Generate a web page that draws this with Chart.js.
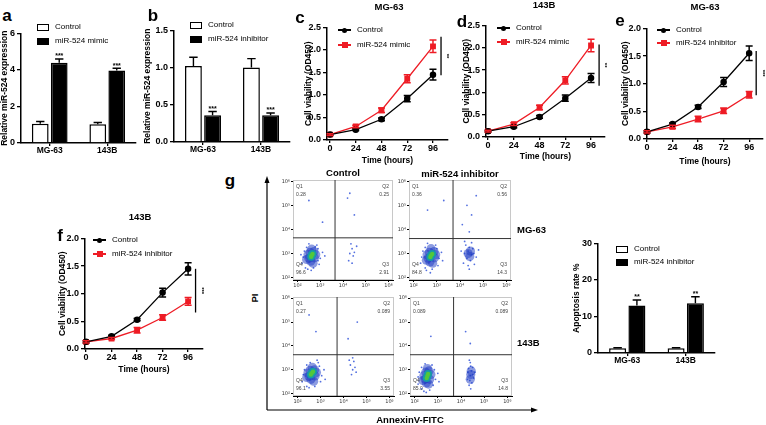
<!DOCTYPE html>
<html><head><meta charset="utf-8">
<script src="https://cdn.jsdelivr.net/npm/chart.js@4.4.1/dist/chart.umd.min.js"></script>
<style>
html,body{margin:0;padding:0;background:#fff}
body{width:766px;height:425px;position:relative;overflow:hidden;font-family:"Liberation Sans",Arial,sans-serif;color:#000}
.t{position:absolute;white-space:nowrap;line-height:1}
</style></head><body>
<script>
// ---------------- DATA ----------------
const barCategories = ['MG-63', '143B'];
const aControl = [1.05, 1.02];      const aControlErr = [0.13, 0.10];
const aMimic = [4.40, 3.97];        const aMimicErr = [0.20, 0.12];
const bControl = [1.02, 1.00];      const bControlErr = [0.12, 0.12];
const bInhibitor = [0.36, 0.36];    const bInhibitorErr = [0.05, 0.03];

const timeHours = [0, 24, 48, 72, 96];
const cControl = [0.12, 0.23, 0.46, 0.92, 1.45]; const cControlErr = [0.02, 0.02, 0.03, 0.07, 0.12];
const cMimic   = [0.12, 0.30, 0.66, 1.36, 2.08]; const cMimicErr   = [0.02, 0.03, 0.05, 0.09, 0.14];
const dControl = [0.13, 0.23, 0.45, 0.87, 1.32]; const dControlErr = [0.02, 0.02, 0.03, 0.07, 0.10];
const dMimic   = [0.13, 0.29, 0.66, 1.27, 2.05]; const dMimicErr   = [0.02, 0.03, 0.05, 0.08, 0.14];
const eControl = [0.13, 0.27, 0.58, 1.03, 1.55]; const eControlErr = [0.02, 0.02, 0.03, 0.08, 0.13];
const eInhibitor = [0.13, 0.22, 0.36, 0.51, 0.80]; const eInhibitorErr = [0.02, 0.03, 0.05, 0.05, 0.06];
const fControl = [0.13, 0.23, 0.53, 1.02, 1.45]; const fControlErr = [0.02, 0.02, 0.02, 0.08, 0.11];
const fInhibitor = [0.13, 0.19, 0.34, 0.57, 0.86]; const fInhibitorErr = [0.02, 0.02, 0.05, 0.05, 0.07];
// significance brackets at 96 h: [x, low, high]
const cSig = [103.5, 1.44, 2.29]; const dSig = [103.5, 1.15, 2.07];
const eSig = [102.6, 0.79, 1.59]; const fSig = [103, 0.66, 1.45];

const gControl = [1.3, 1.3];     const gControlErr = [0.15, 0.12];
const gInhibitor = [13.0, 13.6]; const gInhibitorErr = [1.5, 1.8];

// flow cytometry (log10 units) : Control MG-63, inhibitor MG-63, Control 143B, inhibitor 143B
const flowQ1 = ['0.28', '0.36', '0.27', '0.089'];
const flowQ2 = ['0.25', '0.56', '0.089', '0.089'];
const flowQ3 = ['2.91', '14.3', '3.55', '14.8'];
const flowQ4 = ['96.6', '84.8', '96.1', '85.0'];
const flowGateX = [3.65, 3.70, 3.72, 3.68];
const flowGateY = [3.65, 3.62, 3.63, 3.63];
const flowTicks = [2, 3, 4, 5, 6];
const flowCore = [
  [[2.62,2.92],[2.66,2.98],[2.60,2.86]],
  [[2.75,2.92],[2.80,2.98],[2.72,2.85]],
  [[2.62,2.86],[2.67,2.92],[2.58,2.80]],
  [[2.55,2.74],[2.58,2.82],[2.52,2.65]]
];
const flowMid = [
  [[2.50,2.80],[2.72,3.08],[2.55,3.05],[2.74,2.82],[2.46,2.95],[2.80,2.95],[2.62,3.18],[2.58,2.68],[2.40,2.75],[2.68,2.60]],
  [[2.62,2.80],[2.88,3.08],[2.68,3.05],[2.90,2.82],[2.58,2.95],[2.95,2.95],[2.75,3.20],[2.70,2.65],[2.55,2.72],[2.82,2.60],[4.35,3.00],[4.45,3.10],[4.42,2.88]],
  [[2.50,2.72],[2.74,3.00],[2.54,2.98],[2.76,2.74],[2.45,2.86],[2.82,2.88],[2.64,3.10],[2.58,2.60],[2.40,2.68],[2.70,2.52]],
  [[2.45,2.60],[2.62,2.95],[2.48,2.90],[2.65,2.60],[2.40,2.75],[2.70,2.80],[2.55,3.05],[2.50,2.45],[2.35,2.55],[2.60,2.40],[4.42,2.80],[4.40,2.60],[4.44,2.95]]
];
const flowDots = [
  [[2.20,2.60],[2.30,3.10],[2.35,2.40],[2.90,3.20],[3.00,2.80],[2.95,2.55],[2.85,3.35],[2.50,3.40],[2.25,2.85],[2.70,2.40],[2.45,2.35],[3.10,3.05],[2.40,3.25],[2.60,2.30],[2.15,2.95],[2.90,2.70],[3.20,2.90],[2.78,3.28],
   [4.30,3.00],[4.40,3.20],[4.45,2.90],[4.35,3.40],[4.50,3.05],[4.25,2.70],[4.40,2.60],[4.60,3.30],[4.20,5.30],[4.30,5.50],[4.50,4.60],[2.50,5.20],[3.10,4.30]],
  [[2.30,2.60],[2.40,3.10],[2.50,2.40],[3.00,3.20],[3.10,2.80],[3.05,2.50],[2.95,3.35],[2.60,3.42],[2.35,2.85],[2.80,2.35],[2.55,2.30],[3.20,3.05],[2.50,3.25],[2.72,2.20],[3.25,2.70],
   [4.20,3.00],[4.35,3.10],[4.50,2.95],[4.40,3.25],[4.30,2.80],[4.55,3.20],[4.45,2.70],[4.25,3.35],[4.60,3.00],[4.15,2.60],[4.70,2.85],[4.35,2.50],[4.50,3.45],[4.05,3.10],[4.80,3.15],[4.40,2.35],[4.62,2.55],[4.20,3.50],
   [4.30,5.00],[4.50,4.60],[4.70,5.40],[4.10,4.20],[4.40,3.90],[2.60,4.80],[3.30,5.20]],
  [[2.20,2.50],[2.30,3.00],[2.40,2.30],[2.95,3.15],[3.05,2.75],[3.00,2.50],[2.90,3.30],[2.55,3.30],[2.25,2.80],[2.75,2.30],[2.50,2.25],[3.15,3.00],[2.40,3.20],[3.20,2.60],[2.85,3.40],
   [4.30,3.20],[4.40,3.00],[4.45,3.35],[4.35,2.80],[4.50,3.10],[4.25,3.40],[4.55,2.90],[4.40,3.50],[4.60,5.00],[4.20,4.30],[2.80,4.60],[2.50,5.30]],
  [[2.15,2.40],[2.20,2.90],[2.30,2.20],[2.85,3.00],[2.90,2.60],[2.80,2.35],[2.75,3.20],[2.45,3.25],[2.15,2.70],[2.65,2.15],[2.40,2.10],[3.00,2.85],[2.30,3.10],[2.50,2.05],[3.05,2.50],
   [4.40,2.75],[4.45,2.95],[4.38,2.55],[4.42,3.15],[4.35,2.35],[4.50,2.80],[4.30,2.90],[4.47,2.45],[4.40,3.30],[4.55,2.65],[4.33,3.05],[4.50,3.10],[4.28,2.60],[4.42,2.20],[4.60,2.90],[4.36,3.40],
   [4.40,4.10],[4.20,4.60],[2.70,4.40]]
];

// ---------------- HELPERS ----------------
Chart.defaults.font.family = '"Liberation Sans", Arial, sans-serif';
Chart.defaults.color = '#000';
Chart.defaults.animation = false;

const FONT = '"Liberation Sans", Arial, sans-serif';
function T(x, y, s, size, bold, align, rot) {
  const d = document.createElement('div');
  d.className = 't'; d.textContent = s;
  d.style.fontSize = size + 'px';
  d.style.fontWeight = bold ? 'bold' : 'normal';
  d.style.left = x + 'px'; d.style.top = y + 'px';
  let tr = align === 'c' ? 'translate(-50%,-50%)' : align === 'r' ? 'translate(-100%,-50%)' : 'translate(0,-50%)';
  if (rot) tr += ' rotate(' + rot + 'deg)';
  d.style.transform = tr;
  document.body.appendChild(d);
}
function div(css) { const d = document.createElement('div'); d.style.cssText = 'position:absolute;' + css; document.body.appendChild(d); return d; }
function legLine(x, y, color, shape, text) {
  div(`left:${x}px;top:${y - 0.7}px;width:13px;height:1.4px;background:${color}`);
  const s = shape === 'rect' ? 6 : 5;
  div(`left:${x + 6.5 - s / 2}px;top:${y - s / 2}px;width:${s}px;height:${s}px;background:${color};border-radius:${shape === 'rect' ? '0' : '50%'}`);
  T(x + 19, y, text, 8, false, 'l');
}
function legBar(x, y, fill, text) {
  div(`left:${x}px;top:${y - 3.5}px;width:12px;height:7px;box-sizing:border-box;border:1.5px solid #000;background:${fill}`);
  T(x + 18, y, text, 8, false, 'l');
}
function place(area, yW, xH, pT, pR) {
  const W = Math.round(area.r - area.l + yW + pR), H = Math.round(area.b - area.t + xH + pT);
  const c = document.createElement('canvas');
  c.width = W; c.height = H;
  c.style.cssText = `position:absolute;left:${area.l - yW}px;top:${area.t - pT}px;width:${W}px;height:${H}px`;
  document.body.appendChild(c);
  return c;
}

const errPlugin = {
  id: 'errbars',
  afterDatasetsDraw(chart) {
    const ctx = chart.ctx, ys = chart.scales.y;
    chart.data.datasets.forEach((ds, di) => {
      if (!ds.errors) return;
      const meta = chart.getDatasetMeta(di);
      ctx.save();
      ctx.strokeStyle = ds.errColor || '#000';
      ctx.lineWidth = ds.errWidth || 1.4;
      meta.data.forEach((el, i) => {
        const raw = ds.data[i];
        const v = typeof raw === 'object' ? raw.y : raw;
        const e = ds.errors[i];
        const x = el.x;
        const yT = ys.getPixelForValue(v + e);
        const yB = ds.errBoth ? ys.getPixelForValue(v - e) : ys.getPixelForValue(v);
        const cw = ds.capW || (el.width ? el.width * 0.5 : 6);
        ctx.beginPath();
        ctx.moveTo(x, yT); ctx.lineTo(x, yB);
        ctx.moveTo(x - cw / 2, yT); ctx.lineTo(x + cw / 2, yT);
        if (ds.errBoth) { ctx.moveTo(x - cw / 2, yB); ctx.lineTo(x + cw / 2, yB); }
        ctx.stroke();
        if (ds.stars) {
          ctx.fillStyle = '#000';
          ctx.font = 'bold 7px ' + FONT;
          ctx.textAlign = 'center'; ctx.textBaseline = 'bottom';
          ctx.fillText(ds.stars, x, yT + 1);
        }
      });
      ctx.restore();
    });
  }
};
const sigPlugin = {
  id: 'sig',
  afterDraw(chart, args, o) {
    if (!o || !o.v) return;
    const ctx = chart.ctx, xs = chart.scales.x, ys = chart.scales.y;
    const x = xs.getPixelForValue(o.v[0]);
    const y1 = ys.getPixelForValue(o.v[1]), y2 = ys.getPixelForValue(o.v[2]);
    ctx.save();
    ctx.strokeStyle = '#000'; ctx.lineWidth = 1.3;
    ctx.beginPath(); ctx.moveTo(x, y1); ctx.lineTo(x, y2); ctx.stroke();
    ctx.translate(x + 3, (y1 + y2) / 2);
    ctx.rotate(Math.PI / 2);
    ctx.fillStyle = '#000'; ctx.font = 'bold 6px ' + FONT;
    ctx.textAlign = 'center'; ctx.textBaseline = 'bottom';
    ctx.fillText(o.text, 0, 0);
    ctx.restore();
  }
};
const flowPlugin = {
  id: 'flow',
  beforeDatasetsDraw(chart) {
    const a = chart.chartArea, ctx = chart.ctx;
    ctx.save(); ctx.strokeStyle = '#c8c8c8'; ctx.lineWidth = 1;
    ctx.strokeRect(a.left + 0.5, a.top + 0.5, a.right - a.left - 1, a.bottom - a.top - 1);
    ctx.restore();
  },
  afterDatasetsDraw(chart, args, o) {
    if (!o || o.k == null) return;
    const k = o.k, a = chart.chartArea, ctx = chart.ctx, xs = chart.scales.x, ys = chart.scales.y;
    const gx = xs.getPixelForValue(flowGateX[k]), gy = ys.getPixelForValue(flowGateY[k]);
    ctx.save();
    ctx.strokeStyle = '#333'; ctx.lineWidth = 1;
    ctx.beginPath(); ctx.moveTo(gx, a.top); ctx.lineTo(gx, a.bottom);
    ctx.moveTo(a.left, gy); ctx.lineTo(a.right, gy); ctx.stroke();
    ctx.fillStyle = '#444'; ctx.font = '5px ' + FONT; ctx.textBaseline = 'middle';
    ctx.textAlign = 'left';
    ctx.fillText('Q1', a.left + 3, a.top + 7); ctx.fillText(flowQ1[k], a.left + 3, a.top + 15);
    ctx.fillText('Q4', a.left + 3, a.bottom - 15); ctx.fillText(flowQ4[k], a.left + 3, a.bottom - 7);
    ctx.textAlign = 'right';
    ctx.fillText('Q2', a.right - 4, a.top + 7); ctx.fillText(flowQ2[k], a.right - 4, a.top + 15);
    ctx.fillText('Q3', a.right - 4, a.bottom - 15); ctx.fillText(flowQ3[k], a.right - 4, a.bottom - 7);
    ctx.restore();
  }
};

const tickFont = { size: 9, weight: 'bold' };
const titleFont = { size: 8.5, weight: 'bold' };
function yAxis(min, max, step, yW, title, fmt) {
  const ax = {
    min, max, afterFit(s) { s.width = yW; },
    ticks: { stepSize: step, font: tickFont, color: '#000', padding: 2 },
    grid: { drawOnChartArea: false, color: '#000', tickLength: 4, lineWidth: 1.3 },
    border: { color: '#000', width: 1.5 },
    title: { display: true, text: title, font: titleFont, color: '#000', padding: 0 }
  };
  if (fmt) ax.ticks.callback = fmt;
  return ax;
}
function barChart(area, yW, yMin, yMax, step, yTitle, fmt, ctrl, ctrlErr, trt, trtErr, trtLabel, stars) {
  const c = place(area, yW, 14, 2, 2);
  new Chart(c, {
    type: 'bar',
    data: { labels: barCategories, datasets: [
      { label: 'Control', data: ctrl, errors: ctrlErr, backgroundColor: '#fff', borderColor: '#000', borderWidth: 1.5, barPercentage: 0.88, categoryPercentage: 0.66 },
      { label: trtLabel, data: trt, errors: trtErr, stars: stars, backgroundColor: '#000', borderColor: '#000', borderWidth: 1.5, barPercentage: 0.88, categoryPercentage: 0.66 }
    ]},
    options: {
      responsive: false, events: [],
      layout: { padding: { top: 2, right: 2, left: 0, bottom: 0 }, autoPadding: false },
      plugins: { legend: { display: false }, tooltip: { enabled: false } },
      scales: {
        x: { afterFit(s) { s.height = 14; },
             ticks: { font: { size: 8.5, weight: 'bold' }, color: '#000', padding: 0, maxRotation: 0 },
             grid: { drawOnChartArea: false, offset: false, color: '#000', tickLength: 3, lineWidth: 1.3 },
             border: { color: '#000', width: 1.5 } },
        y: yAxis(yMin, yMax, step, yW, yTitle, fmt)
      }
    },
    plugins: [errPlugin]
  });
}
function lineDS(label, ys, errs, color, style) {
  return { label, data: timeHours.map((t, i) => ({ x: t, y: ys[i] })), errors: errs, errBoth: true, capW: 7,
    errColor: color, errWidth: 1.5, borderColor: color, backgroundColor: color,
    pointBackgroundColor: color, pointBorderColor: color, pointStyle: style,
    pointRadius: style === 'rect' ? 3.2 : 2.6, borderWidth: 1.3, clip: false, tension: 0 };
}
function lineChart(area, yW, xH, xMin, xMax, yMax, ctrl, ctrlErr, trt, trtErr, trtLabel, sig, sigText) {
  const c = place(area, yW, xH, 2, 2);
  new Chart(c, {
    type: 'line',
    data: { datasets: [lineDS('Control', ctrl, ctrlErr, '#000', 'circle'), lineDS(trtLabel, trt, trtErr, '#ee1c25', 'rect')] },
    options: {
      responsive: false, events: [],
      layout: { padding: { top: 2, right: 2, left: 0, bottom: 0 }, autoPadding: false },
      plugins: { legend: { display: false }, tooltip: { enabled: false }, sig: { v: sig, text: sigText } },
      scales: {
        x: { type: 'linear', min: xMin, max: xMax,
             afterBuildTicks(s) { s.ticks = timeHours.map(v => ({ value: v })); },
             afterFit(s) { s.height = xH; },
             ticks: { font: tickFont, color: '#000', padding: 0, maxRotation: 0, autoSkip: false },
             grid: { drawOnChartArea: false, color: '#000', tickLength: 3, lineWidth: 1.3 },
             border: { color: '#000', width: 1.5 },
             title: { display: true, text: 'Time (hours)', font: titleFont, color: '#000', padding: 0 } },
        y: yAxis(0, yMax, 0.5, yW, 'Cell viability (OD450)', v => v.toFixed(1))
      }
    },
    plugins: [errPlugin, sigPlugin]
  });
}
const SUP = { 2: '\u00b2', 3: '\u00b3', 4: '\u2074', 5: '\u2075', 6: '\u2076' };
function flowChart(area, k) {
  const c = place(area, 16, 12, 2, 2);
  const pts = a => a.map(p => ({ x: p[0], y: p[1] }));
  const smallTick = { font: { size: 5, family: '"DejaVu Sans", sans-serif' }, color: '#333', padding: 1, maxRotation: 0, autoSkip: false, callback: v => '10' + SUP[v] };
  new Chart(c, {
    type: 'scatter',
    data: { datasets: [
      { data: pts(flowCore[k]), pointRadius: 2.2, backgroundColor: '#52c83a', borderWidth: 0 },
      { data: pts(flowCore[k]), pointRadius: 4, backgroundColor: '#169aa8', borderWidth: 0 },
      { data: pts(flowMid[k]), pointRadius: 4.6, backgroundColor: 'rgba(28,58,196,0.5)', borderWidth: 0 },
      { data: pts(flowDots[k]), pointRadius: 0.9, backgroundColor: '#5470e0', borderWidth: 0 }
    ]},
    options: {
      responsive: false, events: [],
      layout: { padding: { top: 2, right: 2, left: 0, bottom: 0 }, autoPadding: false },
      plugins: { legend: { display: false }, tooltip: { enabled: false }, flow: { k } },
      scales: {
        x: { type: 'linear', min: 1.8, max: 6.2, afterBuildTicks(s) { s.ticks = flowTicks.map(v => ({ value: v })); },
             afterFit(s) { s.height = 12; }, ticks: smallTick,
             grid: { drawOnChartArea: false, color: '#000', tickLength: 2 }, border: { color: '#000', width: 1 } },
        y: { type: 'linear', min: 1.9, max: 6.05, afterBuildTicks(s) { s.ticks = flowTicks.map(v => ({ value: v })); },
             afterFit(s) { s.width = 16; }, ticks: smallTick,
             grid: { drawOnChartArea: false, color: '#000', tickLength: 2 }, border: { color: '#000', width: 1 } }
      }
    },
    plugins: [flowPlugin]
  });
}

// ---------------- PANELS ----------------
barChart({ l: 21, r: 136, t: 28, b: 143 }, 21, 0, 6, 2, 'Relative miR-524 expression', null,
  aControl, aControlErr, aMimic, aMimicErr, 'miR-524 mimic', '***');
barChart({ l: 174, r: 290, t: 25, b: 142 }, 31, 0, 1.5, 0.5, 'Relative miR-524 expression', v => v.toFixed(1),
  bControl, bControlErr, bInhibitor, bInhibitorErr, 'miR-524 inhibitor', '***');
lineChart({ l: 327, r: 448, t: 22, b: 140 }, 23, 26, -2.8, 110, 2.5, cControl, cControlErr, cMimic, cMimicErr, 'miR-524 mimic', cSig, '**');
lineChart({ l: 486, r: 605, t: 20, b: 137 }, 24, 25, -1.9, 109, 2.5, dControl, dControlErr, dMimic, dMimicErr, 'miR-524 mimic', dSig, '**');
lineChart({ l: 647, r: 763, t: 23, b: 139 }, 26, 28, 0, 109, 2.0, eControl, eControlErr, eInhibitor, eInhibitorErr, 'miR-524 inhibitor', eSig, '***');
lineChart({ l: 85, r: 203, t: 233, b: 349 }, 27, 26, -1, 110, 2.0, fControl, fControlErr, fInhibitor, fInhibitorErr, 'miR-524 inhibitor', fSig, '***');
barChart({ l: 598, r: 715, t: 238, b: 353 }, 26, 0, 30, 10, 'Apoptosis rate %', null,
  gControl, gControlErr, gInhibitor, gInhibitorErr, 'miR-524 inhibitor', '**');

flowChart({ l: 293, r: 393, t: 178, b: 280 }, 0);
flowChart({ l: 409, r: 511, t: 178, b: 280 }, 1);
flowChart({ l: 293, r: 394, t: 295, b: 396 }, 2);
flowChart({ l: 410, r: 512, t: 295, b: 396 }, 3);

// ---------------- TEXT / LEGENDS ----------------
T(7, 15, 'a', 17, true, 'c');
T(153, 15, 'b', 17, true, 'c');
T(300, 17, 'c', 17, true, 'c');
T(462, 21, 'd', 17, true, 'c');
T(620, 20, 'e', 17, true, 'c');
T(60, 235, 'f', 17, true, 'c');
T(230, 180, 'g', 17, true, 'c');

T(389, 7, 'MG-63', 9.5, true, 'c');
T(544, 5, '143B', 9.5, true, 'c');
T(705, 7, 'MG-63', 9.5, true, 'c');
T(140, 217, '143B', 9.5, true, 'c');

legBar(37, 27, '#fff', 'Control');
legBar(37, 41, '#000', 'miR-524 mimic');
legBar(190, 25, '#fff', 'Control');
legBar(190, 39, '#000', 'miR-524 inhibitor');
legLine(338, 30, '#000', 'circle', 'Control');
legLine(338, 45, '#ee1c25', 'rect', 'miR-524 mimic');
legLine(497, 28, '#000', 'circle', 'Control');
legLine(497, 42, '#ee1c25', 'rect', 'miR-524 mimic');
legLine(657, 30, '#000', 'circle', 'Control');
legLine(657, 43, '#ee1c25', 'rect', 'miR-524 inhibitor');
legLine(93, 240, '#000', 'circle', 'Control');
legLine(93, 254, '#ee1c25', 'rect', 'miR-524 inhibitor');
legBar(616, 249, '#fff', 'Control');
legBar(616, 262, '#000', 'miR-524 inhibitor');

T(343, 173, 'Control', 9.5, true, 'c');
T(460, 174, 'miR-524 inhibitor', 9.5, true, 'c');
T(517, 230, 'MG-63', 9.5, true, 'l');
T(517, 343, '143B', 9.5, true, 'l');
T(255, 298, 'PI', 9.5, true, 'c', -90);
T(410, 420, 'AnnexinV-FITC', 9.5, true, 'c');

// axes arrows of the flow panel
const svgNS = 'http://www.w3.org/2000/svg';
const svg = document.createElementNS(svgNS, 'svg');
svg.setAttribute('width', 766); svg.setAttribute('height', 425);
svg.style.cssText = 'position:absolute;left:0;top:0;pointer-events:none';
svg.innerHTML = '<line x1="267" y1="410" x2="267" y2="181" stroke="#000" stroke-width="1.2"/>' +
  '<polygon points="267,176 264.5,183 269.5,183" fill="#000"/>' +
  '<line x1="267" y1="410" x2="533" y2="410" stroke="#000" stroke-width="1.2"/>' +
  '<polygon points="538,410 531,407.5 531,412.5" fill="#000"/>';
document.body.appendChild(svg);
</script>
</body></html>
